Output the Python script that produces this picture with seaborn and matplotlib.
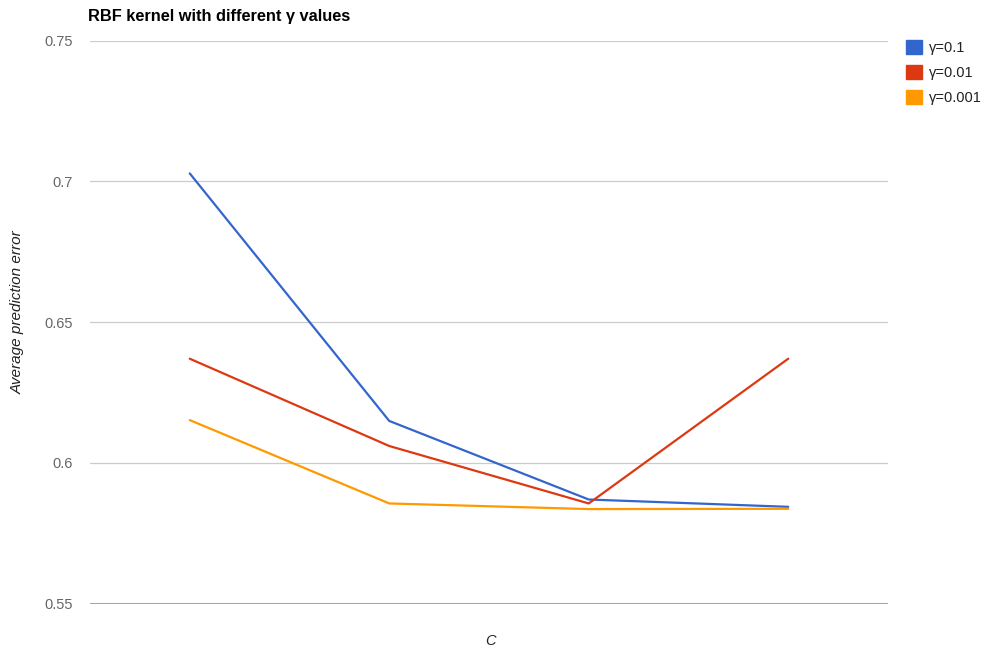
import matplotlib
matplotlib.use("Agg")
import matplotlib.pyplot as plt
from matplotlib.patches import Patch
import seaborn as sns
import pandas as pd

# Average prediction error of the RBF-kernel SVM for four settings of C
c_values = ["C1", "C2", "C3", "C4"]
gamma_labels = ["γ=0.1", "γ=0.01", "γ=0.001"]
err_gamma_01 = [0.7028, 0.6149, 0.5870, 0.5844]
err_gamma_001 = [0.6370, 0.6060, 0.5856, 0.6370]
err_gamma_0001 = [0.6152, 0.5856, 0.5836, 0.5837]
colors = ["#3366cc", "#dc3912", "#ff9900"]

df = pd.DataFrame({
    "C": c_values * 3,
    "error": err_gamma_01 + err_gamma_001 + err_gamma_0001,
    "gamma": [g for g in gamma_labels for _ in c_values],
})

sns.set_theme(style="white")
plt.rcParams["font.family"] = ["Liberation Sans", "DejaVu Sans"]

fig = plt.figure(figsize=(9.86, 6.55), dpi=100)
ax = fig.add_axes([90 / 986, 1 - 603.7 / 655, 798 / 986, (603.7 - 40.5) / 655])

sns.lineplot(data=df, x="C", y="error", hue="gamma", hue_order=gamma_labels,
             palette=colors, linewidth=1.6, legend=False, ax=ax, sort=False)

ax.set_xlim(-0.5, 3.5)
ax.set_ylim(0.55, 0.75)
ax.set_yticks([0.55, 0.6, 0.65, 0.7, 0.75])
ax.set_yticklabels(["0.55", "0.6", "0.65", "0.7", "0.75"])
ax.set_xticks([])
ax.tick_params(axis="y", length=0, pad=12.5, labelsize=10.5, labelcolor="#666666")

for v in [0.6, 0.65, 0.7, 0.75]:
    ax.axhline(v, color="#cccccc", linewidth=0.9, zorder=0)
ax.axhline(0.55, color="#888888", linewidth=1.8, zorder=1)
for s in ax.spines.values():
    s.set_visible(False)

ax.set_xlabel("")
ax.set_ylabel("")
fig.text(490 / 986, 1 - 641 / 655, "C", style="italic", fontsize=10.5,
         color="#222222", ha="center", va="center")
fig.text(18 / 986, 1 - 312 / 655, "Average prediction error", style="italic",
         fontsize=11, color="#222222", rotation=90, ha="center", va="center")
fig.text(88 / 986, 1 - 17 / 655, "RBF kernel with different γ values",
         fontsize=11.8, fontweight="bold", color="#000000", ha="left", va="center")

handles = [Patch(facecolor=c, edgecolor=c) for c in colors]
fig.legend(handles, gamma_labels, loc="upper left",
           bbox_to_anchor=(899 / 986, 1 - 33 / 655), frameon=False,
           fontsize=10.5, handlelength=1.1, handleheight=1.1, handletextpad=0.45,
           labelspacing=0.68, borderpad=0, labelcolor="#222222")

fig.savefig("out.png", dpi=100, facecolor="white")
